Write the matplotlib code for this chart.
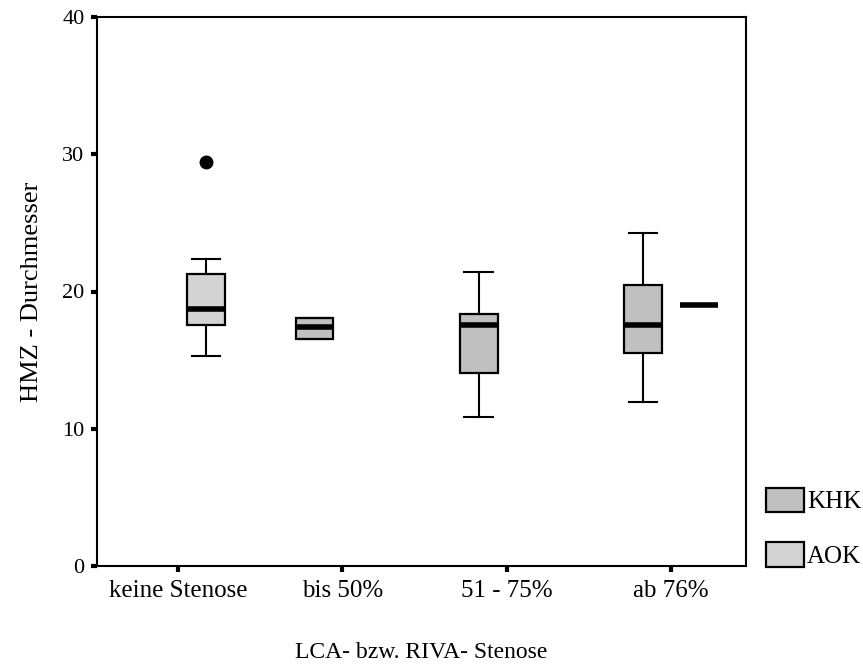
import matplotlib
matplotlib.use('Agg')
import matplotlib.pyplot as plt
from matplotlib.patches import Patch

plt.rcParams['font.family'] = ['Liberation Serif', 'DejaVu Serif']

# stenosis groups on the x axis
categories = ['keine Stenose', 'bis 50%', '51 - 75%', 'ab 76%']
y_ticks = [0, 10, 20, 30, 40]

# box statistics per group: (whislo, q1, med, q3, whishi), None = no cases
khk_stats = [None,
             (16.56, 16.56, 17.38, 18.08, 18.08),
             (10.88, 14.06, 17.55, 18.35, 21.41),
             (11.92, 15.54, 17.55, 20.49, 24.25)]
aok_stats = [(15.27, 17.55, 18.74, 21.30, 22.40),
             None,
             None,
             (19.03, 19.03, 19.03, 19.03, 19.03)]
khk_fliers = [[], [], [], []]
aok_fliers = [[29.45], [], [], []]

KHK_COLOR = '#c0c0c0'
AOK_COLOR = '#d3d3d3'
OFFSET = 0.17
BOX_W = 0.23


def make_stats(stats, fliers):
    out = []
    pos = []
    for i, (s, f) in enumerate(zip(stats, fliers)):
        if s is None:
            continue
        lo, q1, med, q3, hi = s
        out.append(dict(whislo=lo, q1=q1, med=med, q3=q3, whishi=hi, fliers=f))
        pos.append(i + 1)
    return out, pos


fig = plt.figure(figsize=(8.63, 6.67), dpi=100)
ax = fig.add_axes([97 / 863, 1 - 566 / 667, (746 - 97) / 863, (566 - 17) / 667])

for stats, fliers, color, shift in [(khk_stats, khk_fliers, KHK_COLOR, -OFFSET),
                                    (aok_stats, aok_fliers, AOK_COLOR, OFFSET)]:
    bstats, pos = make_stats(stats, fliers)
    ax.bxp(bstats, positions=[p + shift for p in pos], widths=BOX_W,
           capwidths=BOX_W * 0.76, patch_artist=True, showfliers=True,
           boxprops=dict(facecolor=color, edgecolor='black', linewidth=1.6),
           whiskerprops=dict(color='black', linewidth=1.5),
           capprops=dict(color='black', linewidth=1.5),
           medianprops=dict(color='black', linewidth=4, solid_capstyle='butt'),
           flierprops=dict(marker='o', markerfacecolor='black',
                           markeredgecolor='black', markersize=9))

ax.set_xlim(0.507, 4.456)
ax.set_ylim(0, 40)
ax.set_xticks([1, 2, 3, 4])
ax.set_xticklabels(categories)
ax.set_yticks(y_ticks)

for sp in ax.spines.values():
    sp.set_linewidth(1.5)
ax.tick_params(axis='both', direction='out', length=4, width=3)
ax.tick_params(axis='x', pad=6, labelsize=18)
ax.tick_params(axis='y', pad=5, labelsize=16)

ax.set_ylabel('HMZ - Durchmesser', fontsize=19, labelpad=14)
fig.text((97 + 746) / 2 / 863, 0.014, 'LCA- bzw. RIVA- Stenose',
         ha='center', va='baseline', fontsize=17)

handles = [Patch(facecolor=KHK_COLOR, edgecolor='black', linewidth=1.6, label='KHK'),
           Patch(facecolor=AOK_COLOR, edgecolor='black', linewidth=1.6, label='AOK')]
fig.legend(handles=handles, loc='lower left',
           bbox_to_anchor=(766 / 863, 1 - 568 / 667), frameon=False,
           fontsize=18, handlelength=1.52, handleheight=1.15,
           labelspacing=1.15, handletextpad=0.12, borderpad=0, borderaxespad=0)

fig.savefig('out.png', dpi=100)
